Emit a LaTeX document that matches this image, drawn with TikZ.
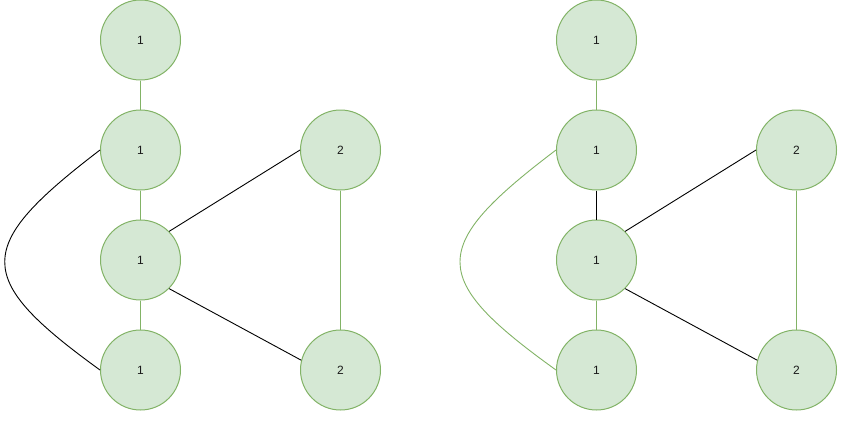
\documentclass[tikz,border=0pt]{standalone}
\usepackage{fontspec}
\setmainfont{Liberation Sans}
\definecolor{nfill}{HTML}{D5E8D4}
\definecolor{nstroke}{HTML}{82B366}
\definecolor{txt}{HTML}{1A1A1A}
\begin{document}
\begin{tikzpicture}[x=1pt,y=-1pt,
  vert/.style={circle,draw=nstroke,fill=nfill,line width=1pt,minimum size=80pt,inner sep=0pt,font=\fontsize{12}{14}\selectfont,text=txt},
  gedge/.style={draw=nstroke,line width=0.9pt},
  bedge/.style={draw=black,line width=0.9pt}]
\useasboundingbox (0,0) rectangle (845,432);
% left graph
\node[vert] (a1) at (140.5,40) {1};
\node[vert] (a2) at (140.5,150) {1};
\node[vert] (a3) at (140.5,260) {1};
\node[vert] (a4) at (140.5,370) {1};
\node[vert] (a5) at (340.5,150) {2};
\node[vert] (a6) at (340.5,370) {2};
\draw[gedge] (a1) -- (a2);
\draw[gedge] (a2) -- (a3);
\draw[gedge] (a3) -- (a4);
\draw[gedge] (a5) -- (a6);
\draw[bedge] (a3.north east) -- (a5.west);
\draw[bedge] (a3.south east) -- (a6.166);
\draw[bedge] (a2.west) .. controls (-27,247) and (-27,278) .. (a4.west);
% right graph
\node[vert] (b1) at (596.5,40) {1};
\node[vert] (b2) at (596.5,150) {1};
\node[vert] (b3) at (596.5,260) {1};
\node[vert] (b4) at (596.5,370) {1};
\node[vert] (b5) at (796.5,150) {2};
\node[vert] (b6) at (796.5,370) {2};
\draw[gedge] (b1) -- (b2);
\draw[bedge] (b2) -- (b3);
\draw[gedge] (b3) -- (b4);
\draw[gedge] (b5) -- (b6);
\draw[bedge] (b3.north east) -- (b5.west);
\draw[bedge] (b3.south east) -- (b6.166);
\draw[gedge] (b2.west) .. controls (428,247) and (428,278) .. (b4.west);
\end{tikzpicture}
\end{document}
